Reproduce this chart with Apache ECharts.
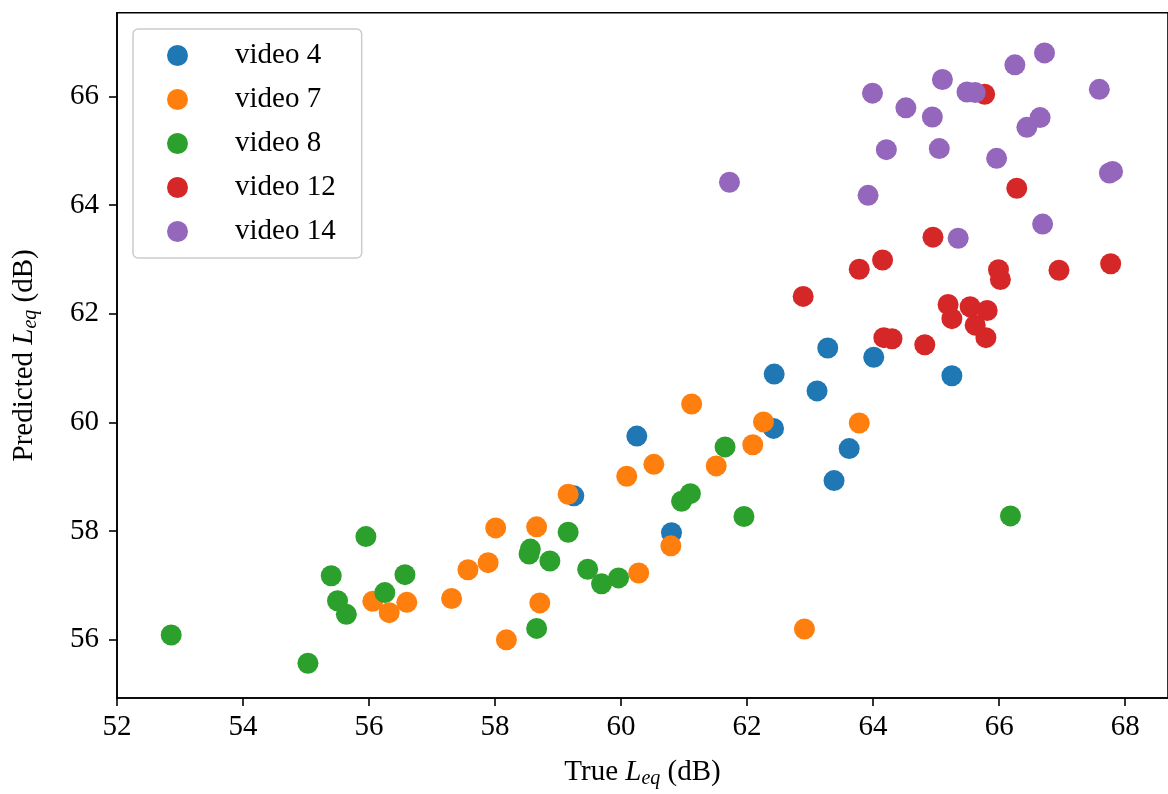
<!DOCTYPE html>
<html>
<head>
<meta charset="utf-8">
<script src="https://cdn.jsdelivr.net/npm/echarts@6/dist/echarts.min.js"></script>
<style>
html,body{margin:0;padding:0;background:#fff;}
#chart{width:1168px;height:794px;}
</style>
</head>
<body>
<div id="chart"></div>
<script>
// ---- data ----
const seriesNames = ['video 4', 'video 7', 'video 8', 'video 12', 'video 14'];
const seriesColors = ['#1f77b4', '#ff7f0e', '#2ca02c', '#d62728', '#9467bd'];

const video4 = [
  [59.25, 58.65], [60.25, 59.75], [60.80, 57.97], [62.43, 60.89], [62.42, 59.89],
  [63.11, 60.58], [63.28, 61.37], [63.38, 58.93], [63.62, 59.52], [64.01, 61.20],
  [65.25, 60.86]
];
const video7 = [
  [56.06, 56.71], [56.32, 56.50], [56.60, 56.69], [57.31, 56.76], [57.57, 57.29],
  [57.89, 57.42], [58.01, 58.06], [58.18, 56.00], [58.66, 58.08], [58.71, 56.68],
  [59.16, 58.68], [60.28, 57.23], [60.09, 59.01], [60.52, 59.23], [60.79, 57.73],
  [61.12, 60.34], [61.51, 59.20], [62.09, 59.59], [62.26, 60.01], [63.78, 59.99],
  [62.91, 56.20]
];
const video8 = [
  [52.86, 56.09], [55.03, 55.57], [55.95, 57.90], [55.40, 57.18], [55.50, 56.72],
  [55.64, 56.47], [56.25, 56.87], [56.57, 57.20], [58.56, 57.67], [58.54, 57.58],
  [58.87, 57.45], [58.66, 56.21], [59.16, 57.98], [59.47, 57.30], [59.69, 57.03],
  [59.96, 57.14], [60.96, 58.55], [61.10, 58.69], [61.65, 59.55], [61.95, 58.27],
  [66.18, 58.28]
];
const video12 = [
  [65.77, 66.04], [66.28, 64.31], [64.95, 63.41], [64.15, 62.99], [63.78, 62.82],
  [65.99, 62.81], [66.02, 62.63], [66.95, 62.80], [67.77, 62.92], [62.89, 62.32],
  [65.19, 62.17], [65.25, 61.91], [65.54, 62.13], [65.81, 62.06], [65.62, 61.79],
  [65.79, 61.56], [64.17, 61.56], [64.30, 61.54], [64.82, 61.43]
];
const video14 = [
  [63.99, 66.06], [64.52, 65.79], [64.94, 65.62], [65.10, 66.31], [65.49, 66.08],
  [65.62, 66.07], [66.25, 66.58], [66.72, 66.80], [67.59, 66.13], [66.44, 65.43],
  [66.65, 65.61], [64.21, 65.02], [65.05, 65.04], [65.96, 64.86], [67.75, 64.59],
  [67.80, 64.62], [63.92, 64.18], [66.69, 63.65], [65.35, 63.39], [61.72, 64.42]
];
const allSeries = [video4, video7, video8, video12, video14];

const xTicks = [52, 54, 56, 58, 60, 62, 64, 66, 68];
const yTicks = [56, 58, 60, 62, 64, 66];
const xRange = [52, 68.68];
const yRange = [54.93, 67.54];

// ---- chart ----
const FONT = 'Liberation Serif';
const chart = echarts.init(document.getElementById('chart'), null, {renderer: 'canvas'});

const richName = {
  it: {fontFamily: FONT, fontSize: 29, fontStyle: 'italic', color: '#000'},
  sub: {fontFamily: FONT, fontSize: 20, fontStyle: 'italic', color: '#000', padding: [14, 0, 0, 0]}
};

const option = {
  backgroundColor: '#fff',
  animation: false,
  grid: {
    left: 117, top: 12.7, right: -3, bottom: 95.7,
    show: true, borderColor: '#000', borderWidth: 1.6, backgroundColor: 'transparent'
  },
  legend: {
    orient: 'vertical',
    left: 133, top: 29,
    data: seriesNames,
    icon: 'circle',
    itemWidth: 21, itemHeight: 21,
    itemGap: 15,
    padding: [12, 26, 12, 34],
    backgroundColor: 'rgba(255,255,255,0.85)',
    borderColor: '#cccccc', borderWidth: 1.5, borderRadius: 5,
    textStyle: {fontFamily: FONT, fontSize: 29, color: '#000', padding: [0, 0, 0, 42]}
  },
  xAxis: {
    type: 'value', min: xRange[0], max: xRange[1],
    splitLine: {show: false},
    axisLine: {show: true, lineStyle: {color: '#000', width: 1.6}},
    axisTick: {show: true, length: 8, lineStyle: {color: '#000', width: 1.6}, customValues: xTicks},
    axisLabel: {fontFamily: FONT, fontSize: 29, color: '#000', margin: 15, customValues: xTicks},
    name: 'True {it|L}{sub|eq} (dB)',
    nameLocation: 'middle', nameGap: 57,
    nameTextStyle: {fontFamily: FONT, fontSize: 29, color: '#000', rich: richName}
  },
  yAxis: {
    type: 'value', min: yRange[0], max: yRange[1],
    splitLine: {show: false},
    axisLine: {show: true, lineStyle: {color: '#000', width: 1.6}},
    axisTick: {show: true, length: 8, lineStyle: {color: '#000', width: 1.6}, customValues: yTicks},
    axisLabel: {fontFamily: FONT, fontSize: 29, color: '#000', margin: 18, customValues: yTicks},
    name: 'Predicted {it|L}{sub|eq} (dB)',
    nameLocation: 'middle', nameGap: 76, nameRotate: 90,
    nameTextStyle: {fontFamily: FONT, fontSize: 29, color: '#000', rich: richName}
  },
  series: seriesNames.map((name, i) => ({
    name: name,
    type: 'scatter',
    data: allSeries[i],
    symbol: 'circle',
    symbolSize: 21,
    itemStyle: {color: seriesColors[i], opacity: 1},
    emphasis: {disabled: true}
  }))
};
chart.setOption(option);
</script>
</body>
</html>
